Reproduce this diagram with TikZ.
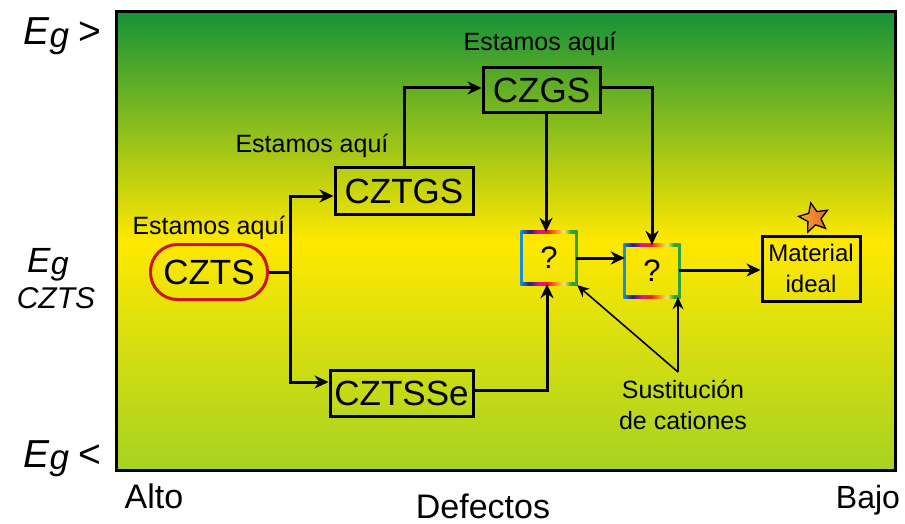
\documentclass[tikz,border=0pt]{standalone}
\usepackage{fontspec}
\setmainfont{Liberation Sans}
\usetikzlibrary{arrows.meta,shapes.geometric}
\definecolor{bgtop}{RGB}{22,146,56}
\definecolor{bgmid}{RGB}{255,232,0}
\definecolor{bgbot}{RGB}{166,210,34}
\definecolor{cztsred}{RGB}{205,20,25}
\definecolor{qblue}{RGB}{30,140,210}
\definecolor{qnavy}{RGB}{40,30,130}
\definecolor{qmag}{RGB}{220,20,140}
\definecolor{qred}{RGB}{240,30,30}
\definecolor{qorange}{RGB}{250,150,40}
\definecolor{qyel}{RGB}{245,240,80}
\definecolor{qgreen}{RGB}{50,160,60}
\definecolor{starlight}{RGB}{250,170,60}
\definecolor{stardark}{RGB}{225,100,40}
\pgfdeclarehorizontalshading{rainbow}{100bp}{color(0bp)=(qblue); color(25bp)=(qblue); color(33bp)=(qnavy); color(41bp)=(qmag); color(49bp)=(qred); color(57bp)=(qorange); color(63bp)=(qyel); color(69bp)=(qgreen); color(100bp)=(qgreen)}
\tikzset{
  bigtxt/.style={font=\fontsize{35}{38}\selectfont},
  medtxt/.style={font=\fontsize{25}{28}\selectfont},
  box/.style={draw, line width=3pt, inner sep=0pt, bigtxt},
  qbox/.style={inner sep=0pt, minimum width=54pt, minimum height=52pt, font=\fontsize{31}{34}\selectfont},
  conn/.style={line width=3pt},
  arr/.style={line width=3pt, -{Stealth[length=14pt,width=13pt]}},
  thinarr/.style={line width=1.6pt, -{Stealth[length=12pt,width=11pt]}},
  axis/.style={font=\fontsize{34}{38}\selectfont},
  eglabel/.style={font=\fontsize{39}{42}\selectfont, anchor=base west, inner sep=0pt}
}
\newcommand{\qborder}[1]{%
  \draw[qblue, line width=3pt] (#1.north west) -- (#1.south west);
  \draw[qgreen, line width=3pt] (#1.north east) -- (#1.south east);
  \shade[shading=rainbow] ([yshift=1.5pt,xshift=-1.5pt]#1.north west) rectangle ([yshift=-1.5pt,xshift=1.5pt]#1.north east);
  \shade[shading=rainbow] ([yshift=1.5pt,xshift=-1.5pt]#1.south west) rectangle ([yshift=-1.5pt,xshift=1.5pt]#1.south east);
}
\newcommand{\egsym}{\textit{E}\raisebox{-2.5pt}{\fontsize{35}{38}\selectfont\textit{g}}}
\begin{document}
\begin{tikzpicture}[x=1pt,y=-1pt]
\useasboundingbox (0,0) rectangle (905,524);
\shade[top color=bgtop, bottom color=bgbot, middle color=bgmid] (116,12) rectangle (895,470);
\draw[line width=3pt] (116,12) rectangle (895,470);

% labels
\node[medtxt] (l1) at (209,228) {Estamos aquí};
\node[medtxt] (l2) at (312,146) {Estamos aquí};
\node[medtxt] (l3) at (540,44) {Estamos aquí};

% nodes
\node[draw=cztsred, line width=3pt, rounded corners=27pt, minimum width=117pt, minimum height=55pt, inner sep=0pt, bigtxt] (czts) at (209,272) {CZTS};
\node[box, minimum width=138pt, minimum height=46pt] (cztgs) at (404,191) {CZTGS};
\node[box, minimum width=117pt, minimum height=45pt] (czgs) at (541.5,90.5) {CZGS};
\node[box, minimum width=143pt, minimum height=46pt] (cztsse) at (401.5,393) {CZTSSe};
\node[qbox] (q1) at (549,258) {?};
\node[qbox] (q2) at (652,271) {?};
\qborder{q1}
\qborder{q2}
\node[draw, line width=3pt, minimum width=98pt, minimum height=65pt, inner sep=0pt, align=center, font=\fontsize{24}{31}\selectfont] (mat) at (811,268.5) {Material\\ideal};
\node[star, star points=5, star point ratio=2.2, minimum size=31pt, inner sep=0pt, left color=starlight, right color=stardark, draw, line width=1.3pt, rotate=12] (star) at (814,218) {};

\node[align=center, font=\fontsize{25}{31}\selectfont] (sust) at (683,405) {Sustitución\\de cationes};
\coordinate (sp) at (678,372);

% connectors
\coordinate (j1) at (290,272);
\draw[conn] (czts.east) -- (j1);
\draw[arr] (j1) |- ([yshift=-5pt]cztgs.west);
\draw[arr] (j1) |- ([yshift=11pt]cztsse.west);
\draw[arr] (cztgs.north) |- ([yshift=2.5pt]czgs.west);
\draw[arr] ([yshift=2.5pt]czgs.east) -| (q2.north);
\draw[arr] ([xshift=4.5pt]czgs.south) -- ([xshift=4.5pt]czgs.south |- q1.north);
\draw[arr] ([yshift=3pt]cztsse.east) -| ([xshift=-2pt]q1.south);
\draw[arr] (q1.east) -- (q1.east -| q2.west);
\draw[arr] ([yshift=1pt]q2.east) -- ([yshift=1pt]q2.east -| mat.west);
\draw[thinarr] (sp) -- ([xshift=1pt,yshift=-1pt]q1.south east);
\draw[thinarr] (sp) -- (sp |- q2.south);

% axes
\node[eglabel] (egt) at (23,45) {\egsym\kern9pt>};
\node[eglabel, font=\fontsize{35}{38}\selectfont] (egm) at (27,272) {\textit{E}\raisebox{-2pt}{\fontsize{32}{34}\selectfont\textit{g}}};
\node[font=\fontsize{30}{32}\selectfont\itshape, anchor=base, inner sep=0pt] (egc) at (56,308) {CZTS};
\node[eglabel] (egb) at (23,467) {\egsym\kern9pt<};
\node[axis, anchor=base, inner sep=0pt] (alto) at (154,508) {Alto};
\node[axis, anchor=base, inner sep=0pt] (def) at (483,518) {Defectos};
\node[font=\fontsize{32}{36}\selectfont, anchor=base, inner sep=0pt] (bajo) at (868,508) {Bajo};
\end{tikzpicture}
\end{document}
